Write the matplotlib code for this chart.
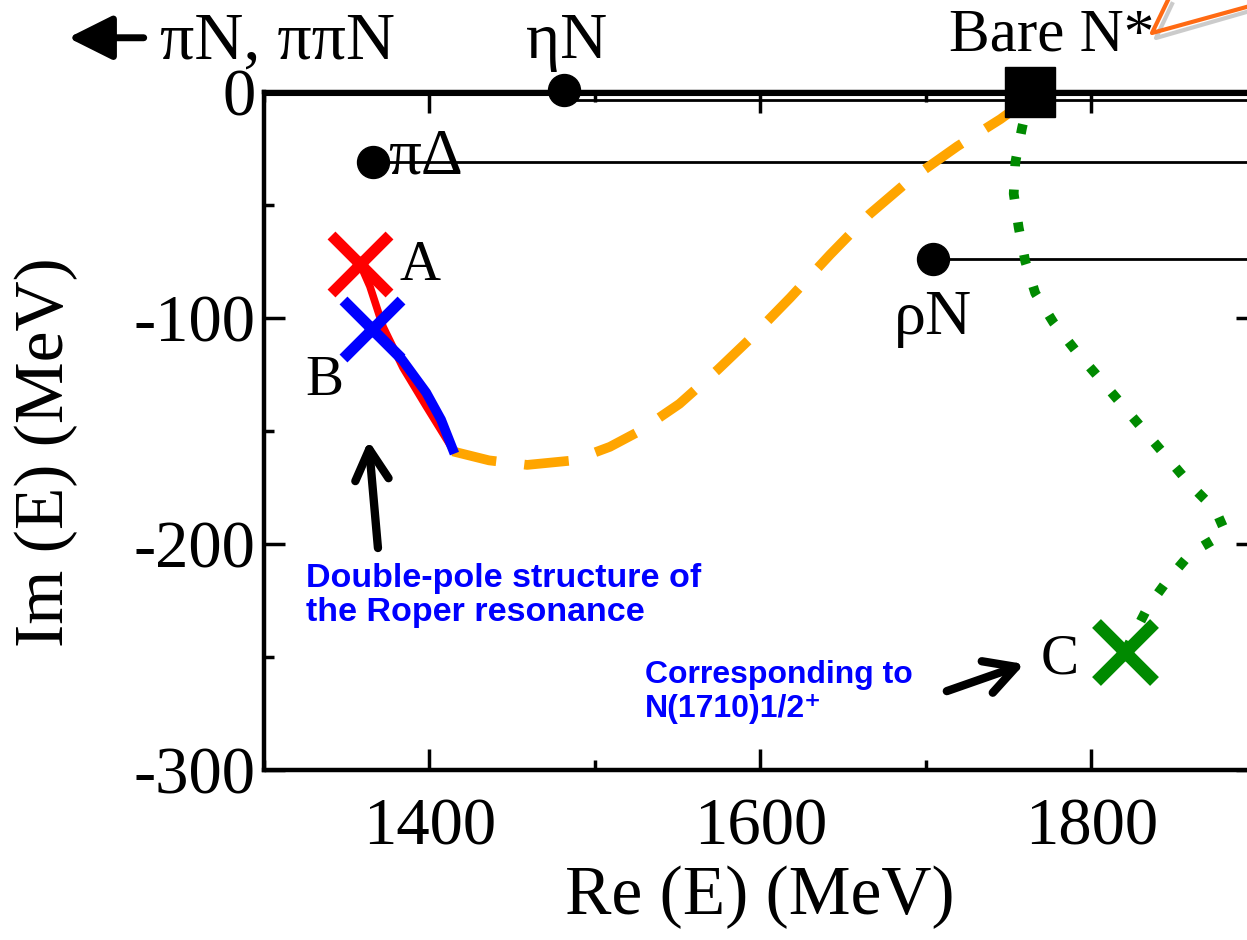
import numpy as np
import matplotlib
matplotlib.use("Agg")
import matplotlib.pyplot as plt
from matplotlib.lines import Line2D
from matplotlib.ticker import MultipleLocator

plt.rcParams['font.family'] = ['Liberation Serif', 'DejaVu Serif']
plt.rcParams['axes.unicode_minus'] = False

# pole trajectories (Re E, Im E in MeV)
pole_a = (1358, -76)
pole_b = (1365, -105)
pole_c = (1820, -248)
bare_nstar = (1763, 0)

red_re = [1358, 1364, 1372, 1384, 1398, 1414]
red_im = [-76, -86, -104, -122, -139, -158]

blue_re = [1365, 1382, 1398, 1407, 1414]
blue_im = [-105, -117, -133, -145, -158]

orange_re = [1414, 1436, 1459, 1487, 1509, 1527, 1551, 1574, 1594, 1618,
             1642, 1666, 1690, 1719, 1745, 1760, 1763]
orange_im = [-159, -163, -165, -163, -157, -150, -138, -123, -109, -91,
             -72, -54, -39, -24, -12, -4, 0]

green_re = [1763, 1758, 1754, 1753, 1756, 1760, 1766, 1777, 1791, 1804,
            1818, 1832, 1846, 1860, 1875, 1881, 1860, 1846, 1834, 1820]
green_im = [0, -16, -31, -45, -60, -75, -89, -102, -115, -126,
            -138, -150, -162, -174, -185, -195, -204, -216, -228, -248]

# thresholds (Re, Im)
thr_eta = (1481, 1)
thr_pidelta = (1366, -31)
thr_rho = (1704, -74)

fig = plt.figure(figsize=(12.47, 9.40), dpi=100)
ax = fig.add_axes([264 / 1247, 170 / 940, 993 / 1247, 678 / 940])

# threshold lines
ax.plot([1300, 1900], [-1.2, -1.2], color='black', lw=1.5, clip_on=False)
ax.plot([thr_eta[0], 1900], [-3.5, -3.5], color='black', lw=2, clip_on=False)
ax.plot([thr_pidelta[0], 1900], [thr_pidelta[1], thr_pidelta[1]], color='black', lw=2)
ax.plot([thr_rho[0], 1900], [thr_rho[1], thr_rho[1]], color='black', lw=2)
for p in (thr_eta, thr_pidelta, thr_rho):
    ax.plot(p[0], p[1], 'o', color='black', ms=23, clip_on=False, zorder=6)

# trajectories
ax.plot(orange_re, orange_im, color='#ffa500', lw=7, dashes=(4.6, 2.9),
        dash_capstyle='butt', zorder=3)
ax.plot(green_re, green_im, color='#008a00', lw=7, dashes=(1.0, 2.4),
        dash_capstyle='butt', zorder=3)
ax.plot(red_re, red_im, color='#ff0000', lw=5.5, zorder=4)
ax.plot(blue_re, blue_im, color='#0000ff', lw=7, zorder=5)

ax.plot(*pole_a, 'x', color='#ff0000', ms=42, mew=8, zorder=6)
ax.plot(*pole_b, 'x', color='#0000ff', ms=42, mew=8, zorder=6)
ax.plot(*pole_c, 'x', color='#008a00', ms=42, mew=9, zorder=6)
ax.plot(*bare_nstar, 's', color='black', ms=36, clip_on=False, zorder=7)

# labels in the plot
ax.text(1483, 15, 'ηN', fontsize=47, ha='center', va='baseline', clip_on=False)
ax.text(1237, 15, 'πN, ππN', fontsize=49, ha='left', va='baseline', clip_on=False)
ax.annotate('', xy=(1180, 24), xytext=(1229, 24), annotation_clip=False,
            arrowprops=dict(arrowstyle='-|>,head_length=0.9,head_width=0.45',
                            mutation_scale=30, lw=5, color='black'))
ax.text(1375, -36, 'πΔ', fontsize=47, ha='left', va='baseline')
ax.text(1704, -107, 'ρN', fontsize=46, ha='center', va='baseline')
ax.text(1382, -83, 'A', fontsize=41, ha='left', va='baseline')
ax.text(1325, -134, 'B', fontsize=41, ha='left', va='baseline')
ax.text(1769, -257.5, 'C', fontsize=41, ha='left', va='baseline')
ax.text(1714, 18.5, 'Bare N*', fontsize=44, ha='left', va='baseline', clip_on=False)

arrow_kw = dict(arrowstyle='->,head_length=0.55,head_width=0.3',
                mutation_scale=40, lw=6, color='black', capstyle='round')
ax.annotate('', xy=(1363, -153), xytext=(1369, -203), arrowprops=arrow_kw)
ax.annotate('', xy=(1761, -252.7), xytext=(1711, -265.5), arrowprops=arrow_kw)

blue_font = ['Liberation Sans', 'DejaVu Sans']
ax.text(1325.4, -208.5, 'Double-pole structure of\nthe Roper resonance',
        family=blue_font, fontweight='bold', fontsize=24.5, color='#0000ff',
        ha='left', va='top', linespacing=1.1)
ax.text(1692, -251.5, 'Corresponding to\nN(1710)1/2\u207a',
        family=blue_font, fontweight='bold', fontsize=23, color='#0000ff',
        ha='right', va='top', multialignment='left', linespacing=1.15)

# axes styling
ax.set_xlim(1300, 1900)
ax.set_ylim(-300, 0)
ax.xaxis.set_major_locator(MultipleLocator(200))
ax.xaxis.set_minor_locator(MultipleLocator(100))
ax.yaxis.set_major_locator(MultipleLocator(100))
ax.yaxis.set_minor_locator(MultipleLocator(50))
ax.set_xticks([1400, 1600, 1800])
ax.tick_params(which='both', direction='in', top=True, right=True, width=2.5)
ax.tick_params(which='major', length=15, labelsize=48)
ax.tick_params(which='minor', length=7.5)
ax.tick_params(axis='x', pad=20)
ax.tick_params(axis='y', pad=6)
for s in ax.spines.values():
    s.set_linewidth(3.2)

ax.set_xlabel('Re (E) (MeV)', fontsize=50)
ax.set_ylabel('Im (E) (MeV)', fontsize=50)
ax.xaxis.set_label_coords((760 - 264) / 993, (770 - 866) / 678)
ax.yaxis.set_label_coords((78 - 264) / 993, (770 - 452) / 678)

# callout outline at the top right corner
fx = lambda px: px / 1247
fy = lambda py: 1 - py / 940
fig.add_artist(Line2D([fx(1250), fx(1156), fx(1172)], [fy(11), fy(38), fy(4)],
                      color='#999999', lw=3, alpha=0.5))
fig.add_artist(Line2D([fx(1250), fx(1152), fx(1168)], [fy(6), fy(33), fy(0)],
                      color='#ff6a13', lw=3))

fig.savefig('out.png', dpi=100)
